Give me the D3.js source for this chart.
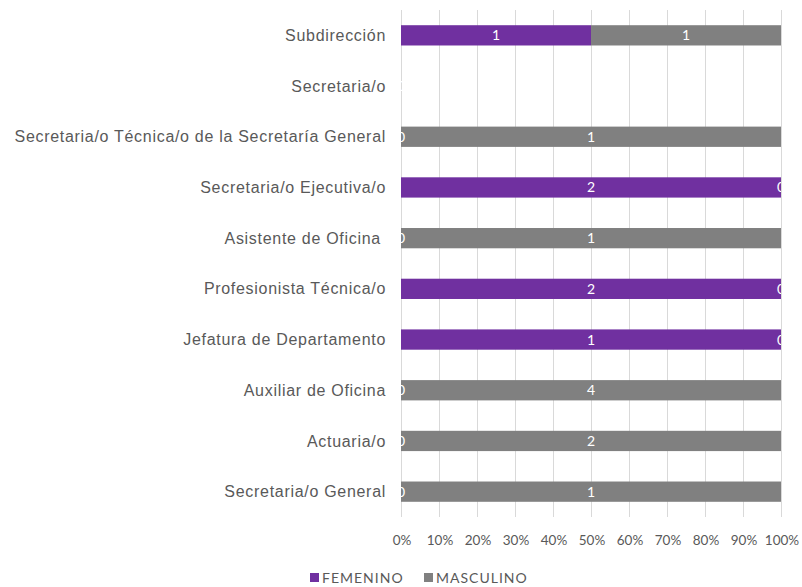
<!DOCTYPE html>
<html>
<head>
<meta charset="utf-8">
<script src="https://cdn.jsdelivr.net/npm/d3@7"></script>
<style>
  body { margin: 0; background: #fff; }
</style>
</head>
<body>
<div class="canvas"></div>
<script>
// chart data
const categories = ['Subdirección', 'Secretaria/o', 'Secretaria/o Técnica/o de la Secretaría General',
  'Secretaria/o Ejecutiva/o', 'Asistente de Oficina ', 'Profesionista Técnica/o',
  'Jefatura de Departamento', 'Auxiliar de Oficina', 'Actuaria/o', 'Secretaria/o General'];
const femenino = [1, 0, 0, 2, 0, 2, 1, 0, 0, 0];
const masculino = [1, 0, 1, 0, 1, 0, 0, 4, 2, 1];
const seriesNames = ['FEMENINO', 'MASCULINO'];
const colors = ['#7030A0', '#808080'];
const tickValues = [0, 0.1, 0.2, 0.3, 0.4, 0.5, 0.6, 0.7, 0.8, 0.9, 1];

const svg = d3.select('.canvas')
  .append('svg')
    .attr('width', 802)
    .attr('height', 587);

const margin = {top: 10, right: 21, bottom: 70, left: 401};
const graphWidth = 802 - margin.left - margin.right;
const graphHeight = 587 - margin.top - margin.bottom;

const graph = svg.append('g')
  .attr('transform', `translate(${margin.left},${margin.top})`);

const x = d3.scaleLinear().domain([0, 1]).range([0, graphWidth]);
const y = d3.scaleBand()
  .domain(categories)
  .range([0, graphHeight])
  .paddingInner(0.6)
  .paddingOuter(0.3);

// gridlines
graph.selectAll('line.grid')
  .data(tickValues)
  .enter().append('line')
    .attr('class', 'grid')
    .attr('x1', d => x(d) + 0.5).attr('x2', d => x(d) + 0.5)
    .attr('y1', 0).attr('y2', graphHeight)
    .attr('stroke', '#d9d9d9')
    .attr('stroke-width', 1);

// stacked 100% rows
const rows = categories.map((c, i) => {
  const tot = femenino[i] + masculino[i];
  const f = tot ? femenino[i] / tot : 0;
  const m = tot ? masculino[i] / tot : 0;
  return {cat: c, segs: [
    {key: 0, v: femenino[i], x0: 0, x1: f},
    {key: 1, v: masculino[i], x0: f, x1: f + m}
  ]};
});

svg.append('clipPath').attr('id', 'plotclip')
  .append('rect').attr('x', 0).attr('y', 0).attr('width', graphWidth).attr('height', graphHeight);

const rowG = graph.selectAll('g.row')
  .data(rows)
  .enter().append('g')
    .attr('class', 'row')
    .attr('transform', d => `translate(0,${y(d.cat)})`);

rowG.selectAll('rect')
  .data(d => d.segs)
  .enter().append('rect')
    .attr('x', d => x(d.x0))
    .attr('width', d => x(d.x1) - x(d.x0))
    .attr('height', y.bandwidth())
    .attr('fill', d => colors[d.key]);

const labelG = graph.append('g').attr('clip-path', 'url(#plotclip)');
rows.forEach(r => {
  labelG.selectAll(null)
    .data(r.segs)
    .enter().append('text')
      .attr('x', d => x((d.x0 + d.x1) / 2))
      .attr('y', y(r.cat) + y.bandwidth() / 2)
      .attr('dy', '0.36em')
      .attr('text-anchor', 'middle')
      .attr('fill', '#fff')
      .style('font-family', 'Lato, "Open Sans", sans-serif')
      .style('font-size', '14px')
      .text(d => d.v);
});

// category labels
graph.selectAll('text.cat')
  .data(categories)
  .enter().append('text')
    .attr('class', 'cat')
    .attr('x', -15)
    .attr('y', d => y(d) + y.bandwidth() / 2)
    .attr('dy', '0.35em')
    .attr('text-anchor', 'end')
    .attr('fill', '#595959')
    .style('font-family', '"Liberation Sans", Arial, sans-serif')
    .style('font-size', '16px')
    .style('letter-spacing', '0.7px')
    .style('white-space', 'pre')
    .text(d => d);

// x axis
const xAxis = d3.axisBottom(x).tickValues(tickValues).tickFormat(d3.format('.0%')).tickSize(0).tickPadding(18);
const xg = graph.append('g')
  .attr('transform', `translate(0.5,${graphHeight})`)
  .call(xAxis);
xg.select('.domain').remove();
xg.selectAll('text')
  .attr('fill', '#595959')
  .style('font-family', 'Lato, "Open Sans", sans-serif')
  .style('font-size', '13.5px');

// legend
const legend = svg.append('g').attr('transform', 'translate(310,573)');
const items = legend.selectAll('g')
  .data(seriesNames)
  .enter().append('g')
    .attr('transform', (d, i) => `translate(${i * 114},0)`);
items.append('rect')
  .attr('width', 9).attr('height', 9)
  .attr('fill', (d, i) => colors[i]);
items.append('text')
  .attr('x', 12).attr('y', 5)
  .attr('dy', '0.36em')
  .attr('fill', '#595959')
  .style('font-family', 'Lato, "Open Sans", sans-serif')
  .style('font-size', '14px')
  .style('letter-spacing', '1px')
  .text(d => d);
</script>
</body>
</html>
